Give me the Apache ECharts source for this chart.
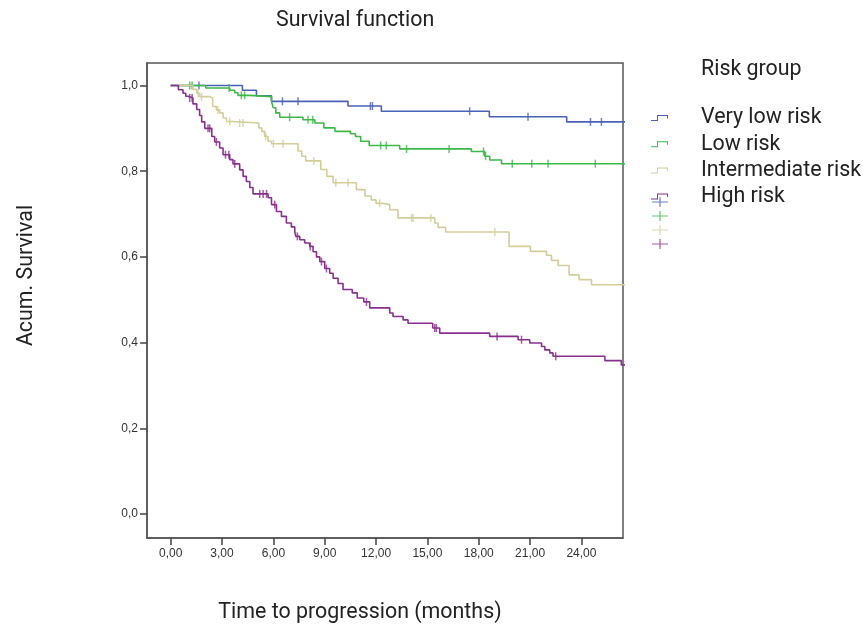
<!DOCTYPE html>
<html>
<head>
<meta charset="utf-8">
<script src="https://cdn.jsdelivr.net/npm/echarts@6/dist/echarts.min.js"></script>
<style>
  html, body { margin: 0; padding: 0; background: #fff; }
  #chart { width: 865px; height: 631px; }
</style>
</head>
<body>
<div id="chart"></div>
<script>
// Kaplan-Meier curves, values
// times = where the curve steps down, surv = survival after the step
const groupNames = ['Very low risk', 'Low risk', 'Intermediate risk', 'High risk'];

const veryLowTimes = [0, 4.19, 5.01, 5.89, 10.36, 12.31, 18.62, 23.14];
const veryLowSurv = [1.0, 0.989, 0.976, 0.963, 0.952, 0.940, 0.927, 0.915];
const veryLowCensored = [1.65, 6.53, 7.44, 11.67, 11.79, 17.47, 20.88, 24.53, 25.17];

const lowTimes = [0, 2.05, 3.45, 3.74, 3.93, 4.6, 5.89, 5.99, 6.14, 6.37, 7.73, 8.42, 8.95, 9.6,
  10.5, 10.8, 11.1, 11.6, 13.38, 17.57, 18.35, 18.64, 19.33];
const lowSurv = [1.0, 0.994, 0.989, 0.983, 0.977, 0.974, 0.963, 0.948, 0.936, 0.926, 0.920, 0.9125, 0.901, 0.893,
  0.8875, 0.881, 0.870, 0.860, 0.852, 0.846, 0.835, 0.826, 0.8175];
const lowCensored = [1.11, 1.25, 3.41, 4.13, 4.32, 6.95, 8.02, 8.3, 12.27, 12.6, 13.78, 16.27, 18.28, 18.4,
  19.96, 21.1, 22.05, 24.81];

const interTimes = [0, 1.30, 1.52, 1.69, 2.28, 2.45, 2.67, 2.86, 3.06, 3.26, 3.62, 5.15, 5.32, 5.49, 5.69, 5.89,
  7.44, 7.66, 7.89, 8.77, 9.12, 9.49, 10.85, 11.35, 11.72, 12.0, 12.41, 12.8, 13.28, 15.43, 15.62, 16.07,
  19.77, 21.02, 21.96, 22.25, 22.64, 23.28, 23.86, 24.59];
const interSurv = [1.0, 0.991, 0.982, 0.974, 0.971, 0.951, 0.943, 0.936, 0.924, 0.916, 0.9125, 0.901, 0.893, 0.881, 0.870, 0.864,
  0.847, 0.835, 0.824, 0.804, 0.788, 0.773, 0.757, 0.742, 0.733, 0.725, 0.722, 0.710, 0.691, 0.679, 0.669, 0.658,
  0.6245, 0.613, 0.604, 0.592, 0.580, 0.558, 0.547, 0.535];
const interCensored = [1.6, 1.8, 2.76, 3.45, 4.03, 4.23, 5.55, 6.0, 6.56, 8.36, 9.65, 10.36, 12.21, 14.07, 14.16,
  15.2, 18.94];

const highTimes = [0, 0.45, 0.72, 0.88, 1.01, 1.30, 1.52, 1.69, 1.81, 1.99, 2.4, 2.57, 2.86, 3.06, 3.45, 3.64,
  4.03, 4.23, 4.42, 4.62, 4.81, 5.69, 5.89, 6.18, 6.47, 6.76, 7.05, 7.25, 7.31, 7.54, 7.83, 8.12, 8.32, 8.52,
  8.71, 9.0, 9.29, 9.49, 9.78, 10.07, 10.61, 10.9, 11.28, 11.63, 12.8, 12.99, 13.58, 13.87, 15.31, 15.72,
  18.64, 20.3, 20.98, 21.67, 21.86, 22.15, 22.34, 25.37, 26.33];
const highSurv = [1.0, 0.990, 0.982, 0.975, 0.971, 0.957, 0.944, 0.930, 0.915, 0.900, 0.881, 0.868, 0.854, 0.8385, 0.827, 0.817,
  0.803, 0.788, 0.776, 0.762, 0.747, 0.738, 0.722, 0.706, 0.6945, 0.679, 0.670, 0.6595, 0.648, 0.640, 0.6325, 0.6245, 0.612, 0.600,
  0.589, 0.573, 0.562, 0.550, 0.538, 0.524, 0.516, 0.504, 0.495, 0.481, 0.469, 0.461, 0.453, 0.445, 0.434, 0.422,
  0.4145, 0.4068, 0.399, 0.391, 0.383, 0.376, 0.368, 0.358, 0.348];
const highCensored = [1.11, 1.25, 2.18, 2.28, 2.67, 3.2, 3.4, 3.74, 5.2, 5.4, 5.6, 6.08, 7.4, 8.15, 8.81, 9.1,
  11.44, 15.43, 15.53, 19.07, 20.5, 22.5];

const xTicks = [0, 3, 6, 9, 12, 15, 18, 21, 24];
const yTicks = [0, 0.2, 0.4, 0.6, 0.8, 1.0];

const groups = [
  { times: veryLowTimes, surv: veryLowSurv, cens: veryLowCensored },
  { times: lowTimes, surv: lowSurv, cens: lowCensored },
  { times: interTimes, surv: interSurv, cens: interCensored },
  { times: highTimes, surv: highSurv, cens: highCensored }
];
const colors = ['#4a62b6', '#3db94a', '#d3ce98', '#892f8e'];
const font = 'Roboto, "Liberation Sans", sans-serif';
const smallFont = '"Liberation Sans", Arial, sans-serif';
const bigSize = 21.4;
const comma = (v, d) => v.toFixed(d).replace('.', ',');

function survAt(g, t) {
  let s = g.surv[0];
  for (let i = 0; i < g.times.length; i++) {
    if (g.times[i] <= t) s = g.surv[i];
  }
  return s;
}

const series = [];
groups.forEach((g, i) => {
  const pts = g.times.map((t, k) => [t, g.surv[k]]);
  // carry the last value past the frame edge, it gets clipped
  pts.push([28, g.surv[g.surv.length - 1]]);
  series.push({
    name: groupNames[i],
    type: 'line',
    step: 'end',
    data: pts,
    showSymbol: false,
    color: colors[i],
    lineStyle: { width: 1.6, color: colors[i] },
    z: 3 + i
  });
});
groups.forEach((g, i) => {
  series.push({
    name: groupNames[i] + ' censored',
    type: 'scatter',
    data: g.cens.map(c => [c, survAt(g, c)]),
    symbol: 'rect',
    symbolSize: [1.5, 8],
    color: colors[i],
    itemStyle: { color: colors[i] },
    z: 3 + i
  });
});

const chart = echarts.init(document.getElementById('chart'));
chart.setOption({
  animation: false,
  backgroundColor: '#fff',
  title: [
    {
      text: 'Survival function',
      left: 276, top: 9, padding: 0,
      textStyle: { fontFamily: font, fontSize: bigSize, fontWeight: 'normal', color: '#222', lineHeight: 24 }
    },
    {
      text: 'Risk group',
      left: 701, top: 58, padding: 0,
      textStyle: { fontFamily: font, fontSize: bigSize, fontWeight: 'normal', color: '#222', lineHeight: 24 }
    }
  ],
  legend: [
    {
      data: groupNames,
      orient: 'vertical',
      left: 651, top: 106,
      padding: 0,
      itemGap: 2.2,
      itemWidth: 17, itemHeight: 6,
      icon: 'path://M0,5 L6,5 L6,0 L17,0 L17,3.5 L16,3.5 L16,1 L7,1 L7,6 L0,6 Z',
      selectedMode: false,
      textStyle: { fontFamily: font, fontSize: bigSize, color: '#222', lineHeight: 24, padding: [0, 0, 0, 28] }
    },
    {
      data: groupNames.map(n => n + ' censored'),
      orient: 'vertical',
      left: 652, top: 197,
      padding: 0,
      itemGap: 4,
      itemWidth: 16, itemHeight: 10,
      icon: 'path://M0,4.4 L16,4.4 L16,5.6 L0,5.6 Z M7.4,0 L8.6,0 L8.6,10 L7.4,10 Z',
      selectedMode: false,
      formatter: () => '',
      textStyle: { fontSize: 1, lineHeight: 1 }
    }
  ],
  grid: {
    left: 147, top: 63, right: 242, bottom: 93,
    show: true, borderColor: '#555', borderWidth: 1.5, backgroundColor: '#fff'
  },
  xAxis: {
    type: 'value',
    min: -1.385, max: 26.43,
    name: 'Time to progression (months)',
    nameLocation: 'middle',
    nameGap: 64,
    nameTextStyle: { fontFamily: font, fontSize: bigSize, color: '#222', padding: [0, 50, 0, 0] },
    splitLine: { show: false },
    axisLine: { onZero: false, lineStyle: { color: '#555', width: 1.5 } },
    axisTick: { customValues: xTicks, length: 7, lineStyle: { color: '#444', width: 1.5 } },
    axisLabel: {
      customValues: xTicks,
      margin: 10,
      fontFamily: smallFont, fontSize: 12, color: '#333',
      formatter: v => comma(v, 2)
    }
  },
  yAxis: {
    type: 'value',
    min: -0.056, max: 1.0525,
    name: 'Acum. Survival',
    nameLocation: 'middle',
    nameRotate: 90,
    nameGap: 110,
    nameTextStyle: { fontFamily: font, fontSize: bigSize, color: '#222', padding: [0, 0, 0, 50] },
    splitLine: { show: false },
    axisLine: { onZero: false, lineStyle: { color: '#555', width: 1.5 } },
    axisTick: { customValues: yTicks, length: 7, lineStyle: { color: '#444', width: 1.5 } },
    axisLabel: {
      customValues: yTicks,
      margin: 9,
      fontFamily: smallFont, fontSize: 12, color: '#333',
      formatter: v => comma(v, 1)
    }
  },
  series: series
});
</script>
</body>
</html>
